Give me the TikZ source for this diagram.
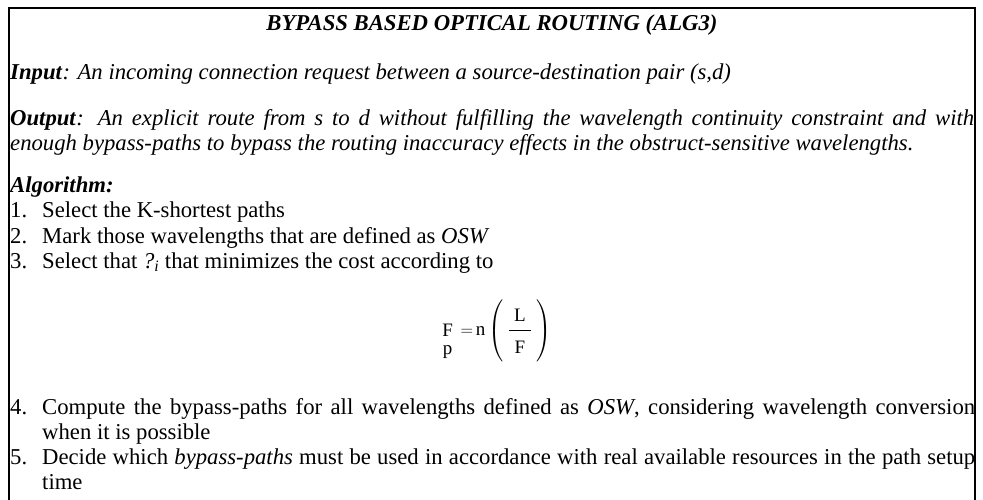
\documentclass[tikz,border=0pt]{standalone}
\usepackage{amsmath}
\usepackage{fontspec}
\setmainfont{Liberation Serif}
\usetikzlibrary{positioning}

\newcommand{\bodysize}{\fontsize{22.7}{25}\selectfont}

\begin{document}
\begin{tikzpicture}[
        x=1pt, y=-1pt,
        every node/.style={inner sep=0pt, font=\bodysize},
        line/.style={anchor=base west},
        para/.style={anchor=north west, text width=#1, align=justify},
        num/.style={anchor=base west},
        frame/.style={line width=1.6pt}
    ]

    \useasboundingbox (0,0) rectangle (983,500);
    \coordinate (bl) at (9,500);
    \coordinate (tl) at (9,8);
    \coordinate (tr) at (975,8);
    \coordinate (br) at (975,500);
    \draw[frame] (bl) -- (tl) -- (tr) -- (br);

    \node[anchor=base, font=\bodysize\bfseries\itshape] (title) at (492,31) {BYPASS BASED OPTICAL ROUTING (ALG3)};

    \node[line] (input) at (10,80) {\textbf{\textit{Input}}\textit{: An incoming connection request between a source-destination pair (s,d)}};

    \node[para=964pt] (output) at (10,107.5) {\strut\textbf{\textit{Output}}\textit{: An explicit route from s to d without fulfilling the wavelength continuity constraint and with\linebreak enough bypass-paths to bypass the routing inaccuracy effects in the obstruct-sensitive wavelengths.}};

    \node[line, font=\bodysize\bfseries\itshape] (algo) at (10,193) {Algorithm:};

    % steps
    \node[num] (n1) at (10,218) {1.};
    \node[line] (s1) at (42,218) {Select the K-shortest paths};
    \node[num] (n2) at (10,243) {2.};
    \node[line] (s2) at (42,243) {Mark those wavelengths that are defined as \textit{OSW}};
    \node[num] (n3) at (10,268) {3.};
    \node[line] (s3) at (42,268) {Select that \textit{?}\textsubscript{\textit{i}} that minimizes the cost according to};

    \node[anchor=center, font=\fontsize{19}{21}\selectfont] (cost) at (497,330)
        {$\mathop{\mathrm{F}}\limits_{\rule{0pt}{15pt}\textstyle\mathrm{p}} \;{=}\, \mathrm{n}\left(\rule[-27pt]{0pt}{64pt}\;\dfrac{\;\mathrm{L}\rule[-7pt]{0pt}{0pt}\;}{\rule{0pt}{20pt}\mathrm{F}}\;\right)$};

    \node[num] (n4) at (10,414) {4.};
    \node[para=933pt] (s4) at (42,396.5) {\strut Compute the bypass-paths for all wavelengths defined as \textit{OSW}, considering wavelength conversion when it is possible};
    \node[num] (n5) at (10,464) {5.};
    \node[para=933pt] (s5) at (42,446.5) {\strut Decide which \textit{bypass-paths} must be used in accordance with real available resources in the path setup time};

\end{tikzpicture}
\end{document}
